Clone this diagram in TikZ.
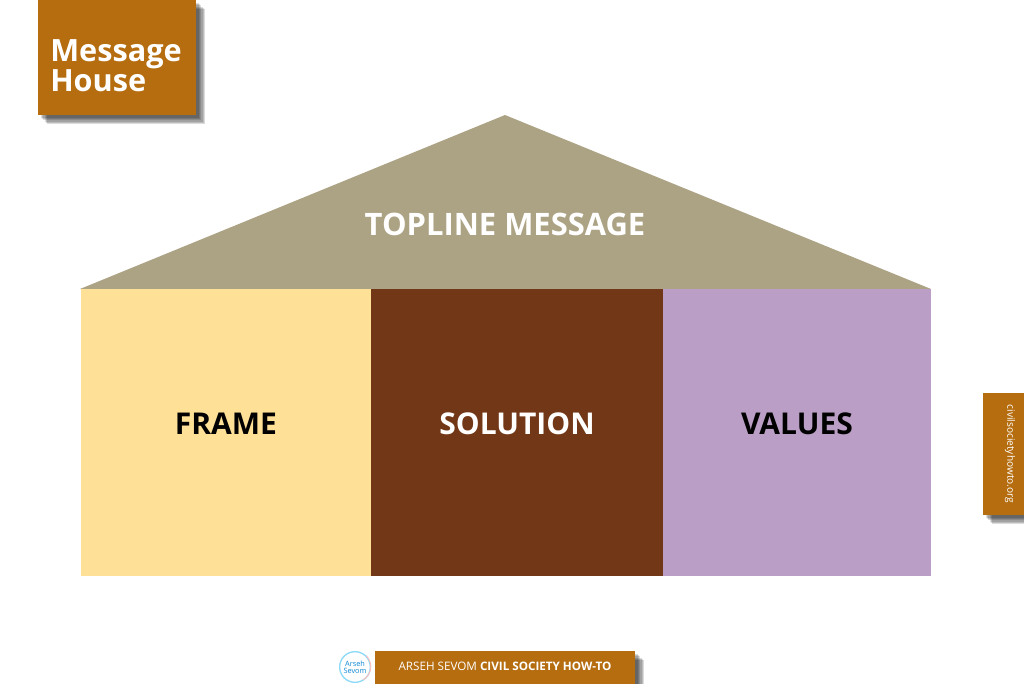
\documentclass[tikz,border=0pt]{standalone}
\usepackage{fontspec}
\setmainfont{Open Sans}
\usepackage{tikz}
\usetikzlibrary{positioning, shadows}
\definecolor{bronze}{HTML}{B56D10}
\definecolor{roofcol}{HTML}{ACA284}
\definecolor{framecol}{HTML}{FEE096}
\definecolor{solutioncol}{HTML}{723716}
\definecolor{valuescol}{HTML}{BA9EC5}
\tikzset{
        softshadow/.style={drop shadow={shadow xshift=#1, shadow yshift=-#1, fill=black, opacity=.14}},
        softbox/.style={fill=bronze, inner sep=0pt, outer sep=0pt,
                softshadow=7pt, softshadow=6pt, softshadow=5pt, softshadow=4pt, softshadow=3pt, softshadow=2pt},
        column/.style={inner sep=0pt, outer sep=0pt, minimum height=215.25pt}, % one wall of the house
        walltext/.style={inner sep=0pt, yshift=6.75pt, font=\fontsize{22.5}{26}\selectfont\bfseries},
}
\def\roof{(505,115) -- (80,289) -- (931,289) -- cycle}
\begin{document}
\begin{tikzpicture}[x=0.75pt, y=-0.75pt]
      \clip (0,0) rectangle (1024,683);
      \fill[white] (0,0) rectangle (1024,683);
      % corner title
      \node[softbox, anchor=north west, minimum width=118.5pt, minimum height=86.25pt] (title) at (38,0) {};
      \node[anchor=north west, inner sep=0pt, text=white, align=left, font=\fontsize{23}{22.5}\selectfont\bfseries] (titletext) at (50,39) {Message\\House};
      % house
      \fill[roofcol] \roof;
      \node[text=white, inner sep=0pt, font=\fontsize{23.2}{26}\selectfont\bfseries] (topline) at (505,224) {TOPLINE MESSAGE};
      \node[column, fill=framecol, anchor=north west, minimum width=217.5pt] (frame) at (81,289) {};
      \node[column, fill=solutioncol, right=0pt of frame, minimum width=219pt] (solution) {};
      \node[column, fill=valuescol, right=0pt of solution, minimum width=201pt] (values) {};
      \node[walltext, text=black] (frametext) at (frame.center) {FRAME};
      \node[walltext, text=white] (solutiontext) at (solution.center) {SOLUTION};
      \node[walltext, text=black] (valuestext) at (values.center) {VALUES};
      % side tab
      \node[softbox, anchor=north west, minimum width=30.75pt, minimum height=91.5pt] (tab) at (983,393) {};
      \node[rotate=-90, text=white, inner sep=0pt, font=\fontsize{7.6}{9}\selectfont] (tabtext) at (1010,454) {civilsocietyhowto.org};
      % footer
      \node[softbox, anchor=north west, minimum width=195pt, minimum height=30pt] (footer) at (375,651) {};
      \node[text=white, inner sep=0pt, font=\fontsize{8.75}{10}\selectfont] (footertext) at (505,666) {ARSEH SEVOM \textbf{CIVIL SOCIETY HOW-TO}};
      \node[circle, draw=cyan!45, line width=1pt, fill=white, minimum size=23pt, inner sep=0pt, align=center, text=cyan!70!blue, font=\fontsize{5.5}{5.5}\selectfont] (logo) at (355,667) {Arseh\\Sevom};
      \draw[red!25, line width=.7pt] (logo.north east) arc (45:-60:11.5pt);
\end{tikzpicture}
\end{document}
